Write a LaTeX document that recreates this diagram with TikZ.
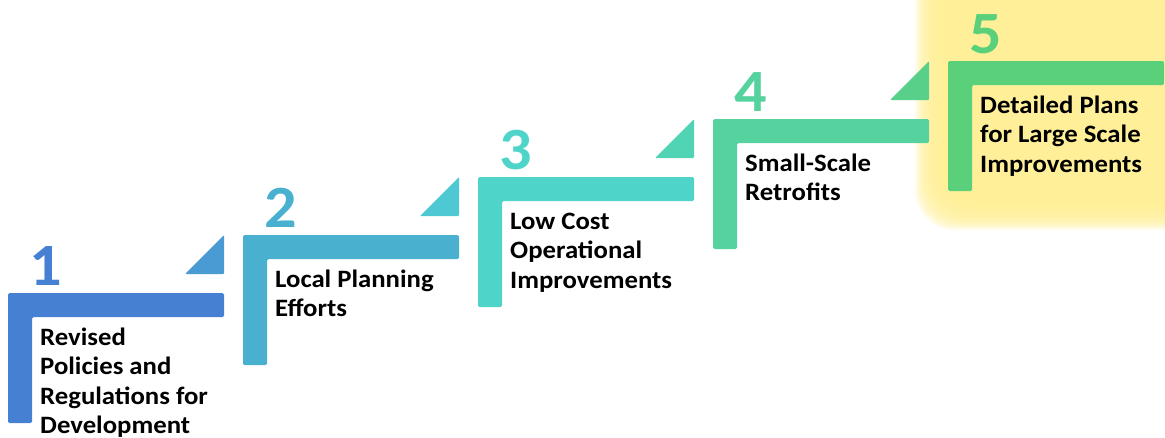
\documentclass[tikz,border=0pt]{standalone}
\usepackage{fontspec}
\setmainfont{Carlito}[FakeStretch=1.07]
\definecolor{glow}{RGB}{255,239,150}
\definecolor{barA}{RGB}{70,128,210}
\definecolor{barB}{RGB}{74,176,208}
\definecolor{barC}{RGB}{78,212,200}
\definecolor{barD}{RGB}{85,210,158}
\definecolor{barE}{RGB}{90,208,122}
\definecolor{triA}{RGB}{74,155,212}
\definecolor{triB}{RGB}{78,200,210}
\definecolor{triC}{RGB}{80,212,180}
\definecolor{triD}{RGB}{88,208,138}
\tikzset{
  stepnum/.style={font=\bfseries\fontsize{60}{60}\selectfont, anchor=base, inner sep=0pt},
  steptext/.style={font=\bfseries\fontsize{25}{29.5}\selectfont, anchor=north west, align=left, inner sep=0pt, text=black},
}
\begin{document}
\begin{tikzpicture}[x=1pt,y=-1pt]
\useasboundingbox (0,0) rectangle (1165,437);
% soft yellow highlight behind the last step
\foreach \k in {0,...,15}{
  \fill[glow, fill opacity=0.2, rounded corners=40pt]
    (942-\k*1.8,-60) rectangle (1230,203+\k*1.8);
}
% the five steps
\foreach \i/\bcol/\tcol/\txt in {
  1/barA/triA/{Revised\\Policies and\\Regulations for\\Development},
  2/barB/triB/{Local Planning\\Efforts},
  3/barC/triC/{Low Cost\\Operational\\Improvements},
  4/barD/triD/{Small-Scale\\Retrofits},
  5/barE/none/{Detailed Plans\\for Large Scale\\Improvements}}{
  \pgfmathsetmacro\xo{8+(\i-1)*235}
  \pgfmathsetmacro\yt{293-(\i-1)*58}
  \fill[\bcol, rounded corners=1.5pt] (\xo,\yt) -- (\xo+216,\yt) -- (\xo+216,\yt+24)
    -- (\xo+24,\yt+24) -- (\xo+24,\yt+130) -- (\xo,\yt+130) -- cycle;
  \ifnum\i<5
    \fill[\tcol, rounded corners=1pt] (\xo+177,\yt-19) -- (\xo+216,\yt-19) -- (\xo+216,\yt-58) -- cycle;
  \fi
  \node[stepnum, text=\bcol] (num\i) at (\xo+38,\yt-8) {\i};
  \node[steptext] (lbl\i) at (\xo+32,\yt+32) {\rule{0pt}{20pt}\txt};
}
\end{tikzpicture}
\end{document}
